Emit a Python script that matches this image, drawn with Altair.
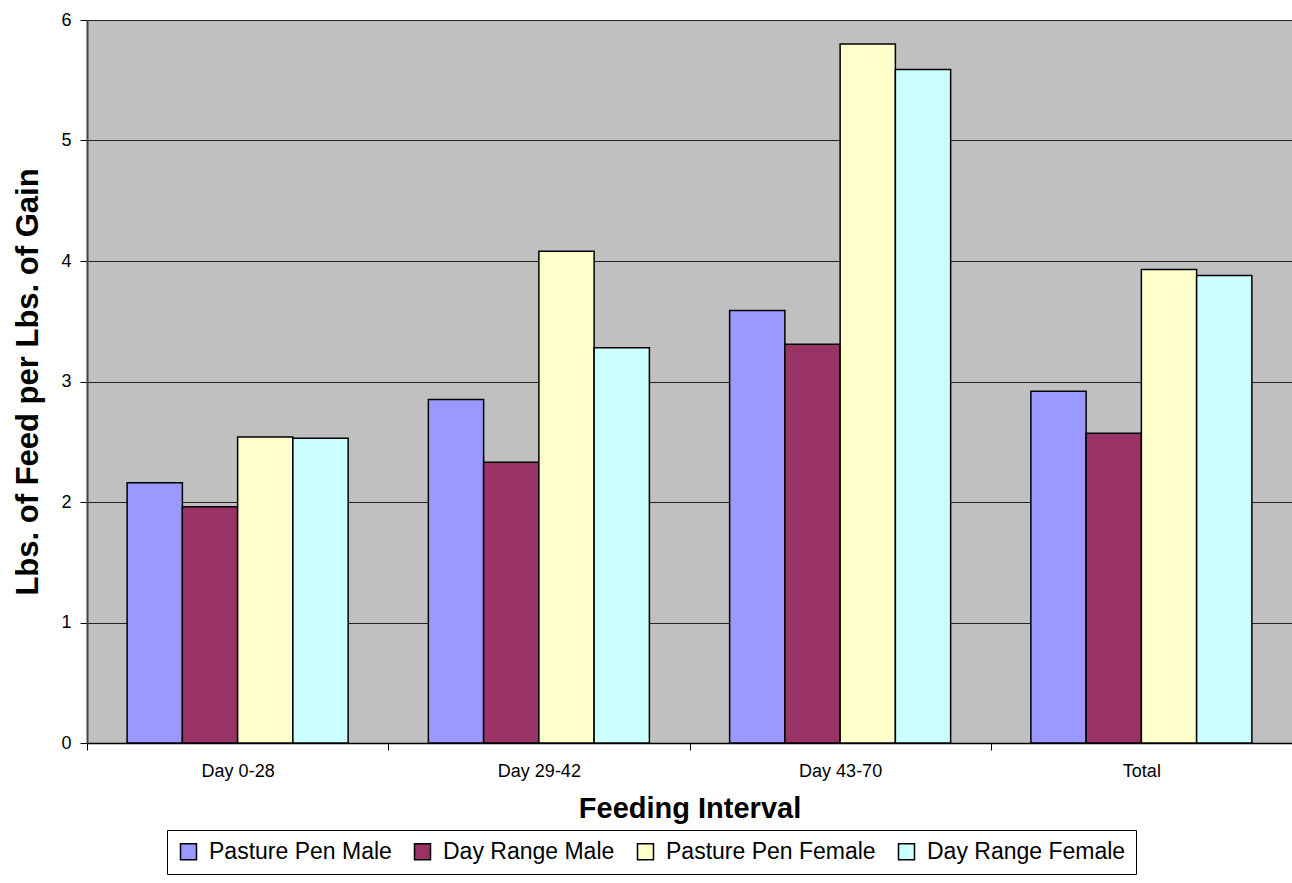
import altair as alt
import pandas as pd

categories = ["Day 0-28", "Day 29-42", "Day 43-70", "Total"]
series = ["Pasture Pen Male", "Day Range Male", "Pasture Pen Female", "Day Range Female"]
pasture_pen_male = [2.16, 2.85, 3.59, 2.92]
day_range_male = [1.96, 2.33, 3.31, 2.57]
pasture_pen_female = [2.54, 4.08, 5.80, 3.93]
day_range_female = [2.53, 3.28, 5.59, 3.88]
colors = ["#9999FF", "#993366", "#FFFFCC", "#CCFFFF"]
y_ticks = [0, 1, 2, 3, 4, 5, 6]

rows = []
for s, vals in zip(series, [pasture_pen_male, day_range_male, pasture_pen_female, day_range_female]):
    for c, v in zip(categories, vals):
        rows.append({"interval": c, "series": s, "value": v})
df = pd.DataFrame(rows)

FONT = "Liberation Sans"

chart = alt.Chart(df).mark_bar(stroke="#000000", strokeWidth=1.5).encode(
    x=alt.X("interval:N", sort=categories,
            scale=alt.Scale(paddingInner=0, paddingOuter=0),
            axis=alt.Axis(title="Feeding Interval", labelAngle=0, tickBand="extent",
                          labelFontSize=18, labelFont=FONT, labelColor="#000000",
                          labelPadding=12, tickSize=7, tickColor="#000000",
                          domainColor="#000000", domainWidth=1.5,
                          titleFontSize=29, titleFont=FONT, titleFontWeight="bold",
                          titleColor="#000000", titlePadding=14)),
    xOffset=alt.XOffset("series:N", sort=series,
                        scale=alt.Scale(paddingInner=0, paddingOuter=0.726)),
    y=alt.Y("value:Q", scale=alt.Scale(domain=[0, 6], nice=False),
            axis=alt.Axis(title="Lbs. of Feed per Lbs. of Gain", values=y_ticks,
                          labelFontSize=18, labelFont=FONT, labelColor="#000000",
                          labelPadding=9, tickSize=7, tickColor="#000000",
                          domainColor="#444444", domainWidth=2,
                          grid=True, gridColor="#222222", gridWidth=1,
                          titleFontSize=31, titleFont=FONT, titleFontWeight="bold",
                          titleColor="#000000", titlePadding=16)),
    color=alt.Color("series:N", sort=series,
                    scale=alt.Scale(domain=series, range=colors),
                    legend=alt.Legend(title=None, orient="none", legendX=80, legendY=810,
                                      direction="horizontal", columns=4,
                                      symbolType="square", symbolSize=256,
                                      symbolStrokeColor="#000000", symbolStrokeWidth=1.5,
                                      symbolOpacity=1, labelOffset=9,
                                      labelFontSize=23, labelFont=FONT, labelColor="#000000",
                                      labelLimit=400, columnPadding=19,
                                      padding=10, strokeColor="#000000",
                                      fillColor="#FFFFFF")),
).properties(
    width=1205, height=723,
    background="#FFFFFF",
    autosize=alt.AutoSizeParams(type="none"),
    padding={"left": 87, "top": 20, "right": 0, "bottom": 140},
).configure_view(
    fill="#C0C0C0", stroke=None
)

chart.save("out.html", embed_options={"renderer": "svg", "actions": False})
